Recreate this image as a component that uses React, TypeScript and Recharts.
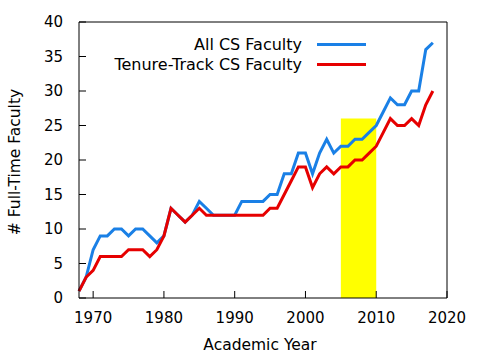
import { LineChart, Line, XAxis, YAxis, ReferenceArea, Legend } from 'recharts'

const years = [
  1968, 1969, 1970, 1971, 1972, 1973, 1974, 1975, 1976, 1977,
  1978, 1979, 1980, 1981, 1982, 1983, 1984, 1985, 1986, 1987,
  1988, 1989, 1990, 1991, 1992, 1993, 1994, 1995, 1996, 1997,
  1998, 1999, 2000, 2001, 2002, 2003, 2004, 2005, 2006, 2007,
  2008, 2009, 2010, 2011, 2012, 2013, 2014, 2015, 2016, 2017,
  2018,
]

const allFaculty = [
  1, 3, 7, 9, 9, 10, 10, 9, 10, 10,
  9, 8, 9, 13, 12, 11, 12, 14, 13, 12,
  12, 12, 12, 14, 14, 14, 14, 15, 15, 18,
  18, 21, 21, 18, 21, 23, 21, 22, 22, 23,
  23, 24, 25, 27, 29, 28, 28, 30, 30, 36,
  37,
]

const tenureTrack = [
  1, 3, 4, 6, 6, 6, 6, 7, 7, 7,
  6, 7, 9, 13, 12, 11, 12, 13, 12, 12,
  12, 12, 12, 12, 12, 12, 12, 13, 13, 15,
  17, 19, 19, 16, 18, 19, 18, 19, 19, 20,
  20, 21, 22, 24, 26, 25, 25, 26, 25, 28,
  30,
]

const xTicks = [1970, 1980, 1990, 2000, 2010, 2020]
const yTicks = [0, 5, 10, 15, 20, 25, 30, 35, 40]
const highlightYears = [2005, 2010]
const highlightTop = 26

const series = [
  { key: 'all', name: 'All CS Faculty', color: '#1a80e6' },
  { key: 'tt', name: 'Tenure-Track CS Faculty', color: '#e60000' },
]

const data = years.map((year, i) => ({ year, all: allFaculty[i], tt: tenureTrack[i] }))

const font = '"DejaVu Sans", sans-serif'
const tickStyle = { fill: '#000', fontSize: 15, fontFamily: font }
const labelStyle = { fill: '#000', fontSize: 15.5, fontFamily: font }

function renderLegend() {
  return (
    <div style={{ fontFamily: font, fontSize: 16, color: '#000' }}>
      {series.map((s) => (
        <div key={s.key} style={{ display: 'flex', justifyContent: 'flex-end', alignItems: 'center', height: 20 }}>
          <span>{s.name}</span>
          <span style={{ display: 'inline-block', width: 49, height: 3, background: s.color, marginLeft: 15 }} />
        </div>
      ))}
    </div>
  )
}

export default function App() {
  return (
    <div>
      <style>{'body{margin:0}'}</style>
      <LineChart width={480} height={360} data={data} margin={{ top: 0, right: 0, bottom: 0, left: 0 }}>
        <XAxis
          dataKey="year"
          type="number"
          domain={[1968, 2020]}
          ticks={xTicks}
          height={62}
          stroke="#000"
          tickSize={-7}
          tickMargin={21}
          tick={tickStyle}
          label={{ value: 'Academic Year', position: 'insideBottom', offset: 10, dx: -3, style: labelStyle }}
        />
        <XAxis
          xAxisId="top"
          dataKey="year"
          type="number"
          orientation="top"
          domain={[1968, 2020]}
          ticks={xTicks}
          height={22}
          stroke="#000"
          tickSize={-7}
          tick={false}
        />
        <YAxis
          domain={[0, 40]}
          ticks={yTicks}
          width={79}
          stroke="#000"
          tickSize={-7}
          tickMargin={23}
          tick={tickStyle}
          label={{ value: '# Full-Time Faculty', angle: -90, position: 'insideLeft', offset: 14, dy: 2, style: { ...labelStyle, textAnchor: 'middle' } }}
        />
        <YAxis
          yAxisId="right"
          orientation="right"
          domain={[0, 40]}
          ticks={yTicks}
          width={33}
          stroke="#000"
          tickSize={-7}
          tick={false}
        />
        <ReferenceArea
          x1={highlightYears[0]}
          x2={highlightYears[1]}
          y1={0}
          y2={highlightTop}
          fill="#ffff00"
          fillOpacity={1}
          stroke="none"
        />
        {series.map((s) => (
          <Line
            key={s.key}
            type="linear"
            dataKey={s.key}
            name={s.name}
            stroke={s.color}
            strokeWidth={3}
            dot={false}
            isAnimationActive={false}
          />
        ))}
        <Legend
          layout="horizontal"
          verticalAlign="middle"
          align="center"
          content={renderLegend}
          wrapperStyle={{ top: 34, left: 80, width: 286 }}
        />
      </LineChart>
    </div>
  )
}
